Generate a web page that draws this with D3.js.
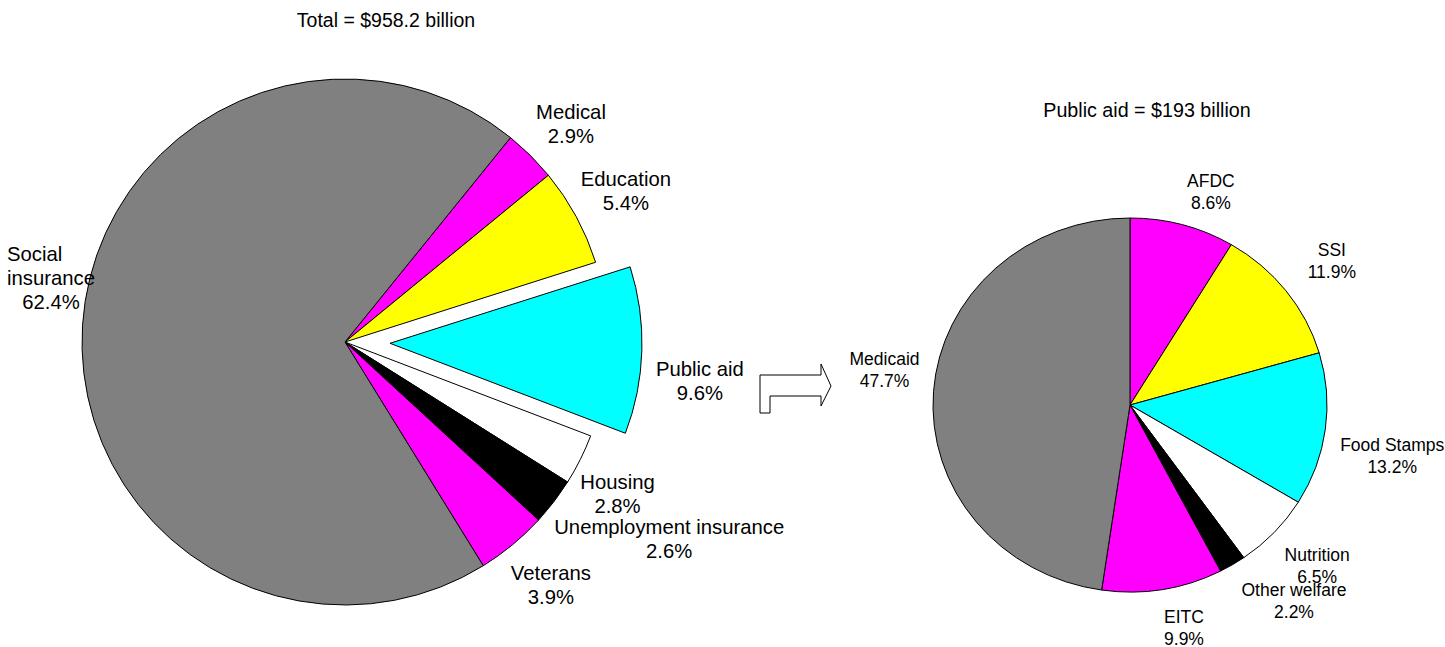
<!DOCTYPE html>
<html>
<head>
<meta charset="utf-8">
<script src="https://cdn.jsdelivr.net/npm/d3@7"></script>
<style>
  body { margin: 0; background: #fff; }
  text { font-family: Arial, "Liberation Sans", sans-serif; fill: #000; }
</style>
</head>
<body>
<div id="chart"></div>
<script>
// main pie: spending by program (percent of total)
var mainLabels = ["Medical", "Education", "Public aid", "Housing", "Unemployment insurance", "Veterans", "Social insurance"];
var mainValues = [2.9, 5.4, 9.6, 2.8, 2.6, 3.9, 62.4];
var mainColors = ["#ff00ff", "#ffff00", "#00ffff", "#ffffff", "#000000", "#ff00ff", "#808080"];

// breakdown of public aid
var aidLabels = ["AFDC", "SSI", "Food Stamps", "Nutrition", "Other welfare", "EITC", "Medicaid"];
var aidValues = [8.6, 11.9, 13.2, 6.5, 2.2, 9.9, 47.7];
var aidColors = ["#ff00ff", "#ffff00", "#00ffff", "#ffffff", "#000000", "#ff00ff", "#808080"];

var mainTitle = "Total = $958.2 billion";
var aidTitle = "Public aid = $193 billion";

// layout (label radius / angle nudges in degrees)
var mainLabelR = [314, 319, 357, 312, 379, 318, 301];
var mainLabelShift = [1.2, 0.2, 4.6, 2.6, -6.2, -0.8, 8.7];
var mainExplode = [0, 0, 45, 0, 0, 0, 0];
var mainExplodeR = 252;
var aidLabelR = [228, 248, 267, 247, 255, 229, 248];
var aidLabelShift = [5.3, 2.1, 3.3, -2.3, -8.7, -4.1, 4.1];

var width = 1445, height = 647;
var svg = d3.select("#chart").append("svg")
  .attr("width", width).attr("height", height);

function fmt(v) { return v.toFixed(1) + "%"; }

function drawPie(opts) {
  var pie = d3.pie().sort(null)
    .startAngle(opts.start * Math.PI / 180)
    .endAngle(opts.start * Math.PI / 180 + 2 * Math.PI);
  var arcs = pie(opts.values);
  var arc = d3.arc().innerRadius(0).outerRadius(opts.r);
  var arcOut = d3.arc().innerRadius(0).outerRadius(opts.explodeR || opts.r);

  var g = svg.append("g")
    .attr("transform", "translate(" + opts.cx + "," + opts.cy + ") scale(" + opts.sx + ",1)");

  g.selectAll("path")
    .data(arcs)
    .enter()
    .append("path")
    .attr("d", function (d, i) {
      return (opts.explode && opts.explode[i]) ? arcOut(d) : arc(d);
    })
    .attr("transform", function (d, i) {
      var off = opts.explode ? opts.explode[i] : 0;
      var m = (d.startAngle + d.endAngle) / 2;
      return "translate(" + (off * Math.sin(m)) + "," + (-off * Math.cos(m)) + ")";
    })
    .attr("fill", function (d, i) { return opts.colors[i]; })
    .attr("stroke", "#000")
    .attr("stroke-width", 1)
    .attr("vector-effect", "non-scaling-stroke");

  // labels
  arcs.forEach(function (d, i) {
    var a = (d.startAngle + d.endAngle) / 2 + opts.labelShift[i] * Math.PI / 180;
    var x = opts.cx + opts.labelR[i] * Math.sin(a);
    var y = opts.cy - opts.labelR[i] * Math.cos(a);
    var lines = opts.split ? opts.split(opts.labels[i]) : [opts.labels[i]];
    lines = lines.concat([fmt(opts.values[i])]);
    var y0 = y - (lines.length - 1) * opts.lh / 2 + opts.fs * 0.36;
    var texts = lines.map(function (t, k) {
      return svg.append("text")
        .attr("x", x).attr("y", y0 + k * opts.lh)
        .attr("text-anchor", "middle")
        .attr("font-size", opts.fs + "px")
        .text(t);
    });
    if (lines.length > 2) {
      // multi-word name: lines left-aligned to the widest one
      var bb = texts[1].node().getBBox();
      texts[0].attr("text-anchor", "start").attr("x", bb.x);
      texts[1].attr("text-anchor", "start").attr("x", bb.x);
    }
  });
}

drawPie({
  values: mainValues, labels: mainLabels, colors: mainColors,
  cx: 345, cy: 342, r: 263, sx: 1, start: 39,
  explode: mainExplode, explodeR: mainExplodeR,
  labelR: mainLabelR, labelShift: mainLabelShift,
  fs: 20.3, lh: 24,
  split: function (t) { return t === "Social insurance" ? ["Social", "insurance"] : [t]; }
});

drawPie({
  values: aidValues, labels: aidLabels, colors: aidColors,
  cx: 1130, cy: 405, r: 187, sx: 197 / 187, start: 0,
  labelR: aidLabelR, labelShift: aidLabelShift,
  fs: 17.5, lh: 22
});

// titles
svg.append("text").attr("x", 386).attr("y", 27)
  .attr("text-anchor", "middle").attr("font-size", "19.5px").text(mainTitle);
svg.append("text").attr("x", 1147).attr("y", 117)
  .attr("text-anchor", "middle").attr("font-size", "19.7px").text(aidTitle);

// block arrow between the pies
var arrowPts = [[0, 11], [61, 11], [61, 0], [71, 22], [61, 42], [61, 32], [10, 32], [10, 49], [0, 49]];
svg.append("path")
  .attr("transform", "translate(760,364)")
  .attr("d", d3.line()(arrowPts) + "Z")
  .attr("fill", "#fff")
  .attr("stroke", "#000")
  .attr("stroke-width", 1);
</script>
</body>
</html>
